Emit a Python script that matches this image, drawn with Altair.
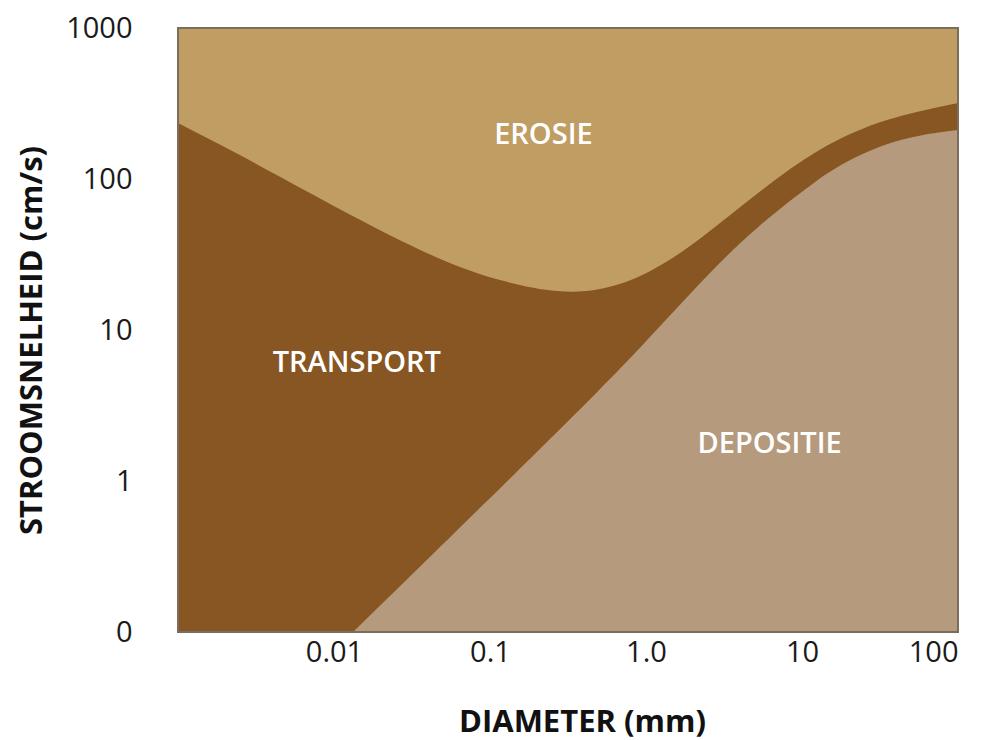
import altair as alt
import pandas as pd

# --- data (diameter in mm, velocity in cm/s) ---
upper_d = [0.001, 0.00249, 0.00681, 0.0170, 0.0464, 0.1159, 0.2685, 0.507, 0.916, 1.915, 4.85, 13.0, 35.1, 100]
upper_v = [235, 144, 82.0, 49.6, 30.0, 21.4, 18.1, 18.7, 22.8, 36.0, 76.0, 156, 246, 319]

lower_d = [0.01325, 0.0863, 0.588, 1.061, 1.83, 2.98, 4.85, 13.0, 21.2, 35.1, 57.1, 100]
lower_v = [0.1, 0.662, 4.67, 8.99, 16.5, 28.0, 45.9, 103, 138, 173, 196, 211]

region_names = ["EROSIE", "TRANSPORT", "DEPOSITIE"]
region_d = [0.22, 0.014, 6.2]
region_v = [195, 6.0, 1.76]

x_tick_vals = [0.01, 0.1, 1, 10, 100]
x_tick_text = ["0.01", "0.1", "1.0", "10", "100"]
y_tick_vals = [0.1, 1, 10, 100, 1000]
y_tick_text = ["0", "1", "10", "100", "1000"]

x_domain = [0.001, 100]
y_domain = [0.1, 1000]

FONT = "Open Sans"
C_EROSIE = "#C09D62"
C_TRANSPORT = "#875623"
C_DEPOSITIE = "#B59A7E"


def label_expr(vals, texts):
    expr = "''"
    for v, t in reversed(list(zip(vals, texts))):
        expr = f"abs(datum.value - {v}) < {v * 0.01} ? '{t}' : ({expr})"
    return expr


up_df = pd.DataFrame({"d": upper_d, "v": upper_v, "base": y_domain[0]})
lo_df = pd.DataFrame({"d": lower_d, "v": lower_v, "base": y_domain[0]})
reg_df = pd.DataFrame({"name": region_names, "d": region_d, "v": region_v})
frame_df = pd.DataFrame({"x0": [x_domain[0]], "x1": [x_domain[1]], "y0": [y_domain[0]], "y1": [y_domain[1]]})

xs = alt.Scale(type="log", domain=x_domain, nice=False)
ys = alt.Scale(type="log", domain=y_domain, nice=False)

x_axis = alt.Axis(
    values=x_tick_vals, labelExpr=label_expr(x_tick_vals, x_tick_text),
    title="DIAMETER (mm)", titleX=404, titleY=90, titleBaseline="middle",
    titleAlign="center", labelPadding=6,
)
y_axis = alt.Axis(
    values=y_tick_vals, labelExpr=label_expr(y_tick_vals, y_tick_text),
    title="STROOMSNELHEID (cm/s)", titleX=-146, titleY=312, titleBaseline="middle",
    titleAlign="center", titleAngle=270, labelPadding=46, labelAlign="right",
    labelBaseline="middle",
)

transport = alt.Chart(up_df).mark_area(color=C_TRANSPORT, interpolate="natural", clip=True).encode(
    x=alt.X("d:Q", scale=xs, axis=x_axis),
    y=alt.Y("v:Q", scale=ys, axis=y_axis),
    y2="base:Q",
)

depositie = alt.Chart(lo_df).mark_area(color=C_DEPOSITIE, interpolate="basis", clip=True).encode(
    x=alt.X("d:Q", scale=xs),
    y=alt.Y("v:Q", scale=ys),
    y2="base:Q",
)

frame = alt.Chart(frame_df).mark_rect(fillOpacity=0, stroke="#7b6d5e", strokeWidth=2).encode(
    x=alt.X("x0:Q", scale=xs), x2="x1:Q",
    y=alt.Y("y0:Q", scale=ys), y2="y1:Q",
)

labels = alt.Chart(reg_df).mark_text(
    color="white", font=FONT, fontSize=29, fontWeight=600, align="center", baseline="middle"
).encode(
    x=alt.X("d:Q", scale=xs),
    y=alt.Y("v:Q", scale=ys),
    text="name:N",
)

chart = alt.layer(transport, depositie, frame, labels).properties(
    width=780, height=604,
    autosize=alt.AutoSizeParams(type="none"),
    padding={"left": 170, "top": 20, "right": 15, "bottom": 108},
).configure_view(
    fill=C_EROSIE, strokeWidth=0,
).configure_axis(
    domain=False, ticks=False, grid=False,
    labelFont=FONT, labelFontSize=29, labelColor="#1a1a1a",
    titleFont=FONT, titleFontSize=31, titleFontWeight="bold", titleColor="#111111",
)

chart.save("out.html", embed_options={"renderer": "svg", "actions": False})
